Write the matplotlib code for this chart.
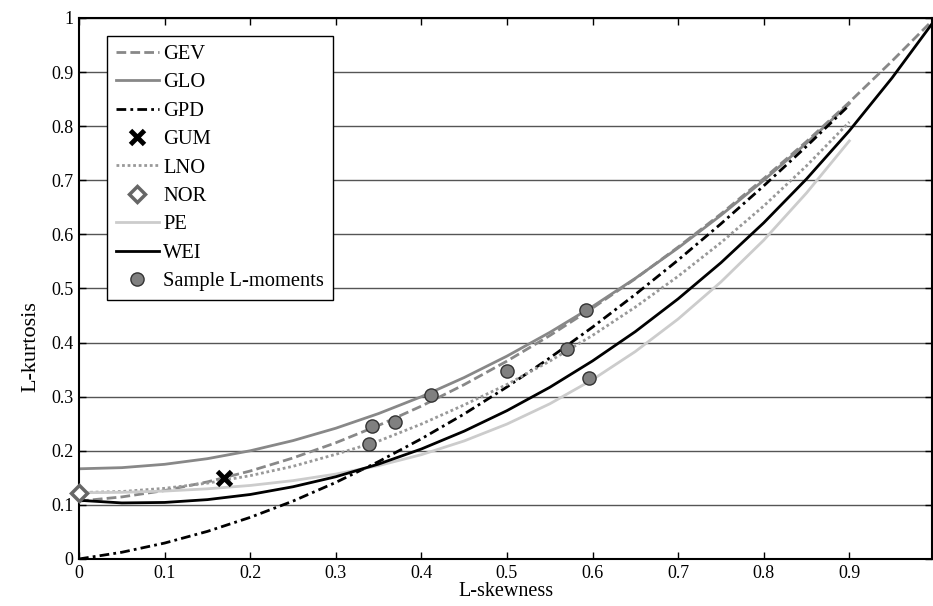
"""
L-moment ratio diagram: theoretical curves of candidate distributions
with the sample L-skewness / L-kurtosis pairs of the stations.
"""

import matplotlib
matplotlib.use('Agg')
import matplotlib.pyplot as plt

plt.rcParams['font.family'] = ['Liberation Serif', 'DejaVu Serif']

# L-skewness grid for the curves
t3_full = [0.0, 0.05, 0.1, 0.15, 0.2, 0.25, 0.3, 0.35, 0.4, 0.45, 0.5,
           0.55, 0.6, 0.65, 0.7, 0.75, 0.8, 0.85, 0.9, 0.95, 1.0]
t3_short = t3_full[:19]

# L-kurtosis of each distribution along the grid
gev = [0.107, 0.1147, 0.1265, 0.1425, 0.1626, 0.1867, 0.2148, 0.2469, 0.2826, 0.3223,
       0.3658, 0.4129, 0.4638, 0.5181, 0.5766, 0.6378, 0.7031, 0.7717, 0.8443, 0.9206, 1.0]
glo = [0.1667, 0.1688, 0.175, 0.1854, 0.2, 0.2188, 0.2417, 0.2688, 0.3, 0.3354,
       0.375, 0.4188, 0.4667, 0.5188, 0.575, 0.6354, 0.7, 0.7688, 0.8417]
gpd = [0.0, 0.0124, 0.0294, 0.051, 0.0769, 0.107, 0.1415, 0.18, 0.2222, 0.268,
       0.318, 0.3716, 0.4286, 0.489, 0.5526, 0.6196, 0.6897, 0.7628, 0.839]
lno = [0.1228, 0.1247, 0.1306, 0.1402, 0.154, 0.1713, 0.1935, 0.2179, 0.2494, 0.2848,
       0.3226, 0.3657, 0.4133, 0.4656, 0.5226, 0.5848, 0.6525, 0.7267, 0.8077]
pe = [0.1224, 0.1232, 0.1255, 0.1297, 0.1359, 0.1448, 0.1569, 0.1726, 0.1928, 0.2182,
      0.2494, 0.2868, 0.3315, 0.3835, 0.4436, 0.5121, 0.5893, 0.6766, 0.7728]
wei = [0.1085, 0.1036, 0.1045, 0.1097, 0.1192, 0.1335, 0.152, 0.1754, 0.2033, 0.2363,
       0.2742, 0.3173, 0.3661, 0.4203, 0.4809, 0.5476, 0.6214, 0.7025, 0.7915, 0.8894, 0.9966]

# single-point distributions
gum_t3, gum_t4 = 0.1699, 0.1504
nor_t3, nor_t4 = 0.0, 0.1226

# sample L-moment ratios
sample_t3 = [0.339, 0.342, 0.369, 0.411, 0.500, 0.570, 0.592, 0.596]
sample_t4 = [0.213, 0.245, 0.253, 0.304, 0.348, 0.388, 0.460, 0.335]

fig = plt.figure(figsize=(9.33, 6.06), dpi=100)
ax = fig.add_axes([0.0847, 0.0776, 0.9146, 0.8927])

ax.plot(t3_full, gev, color='#888888', linestyle=(0, (3.5, 1.5)), linewidth=2, label='GEV')
ax.plot(t3_short, glo, color='#888888', linewidth=2, label='GLO')
ax.plot(t3_short, gpd, color='black', linestyle=(0, (3.5, 1.5, 1, 1.5)), linewidth=2, label='GPD')
ax.plot([gum_t3], [gum_t4], linestyle='none', marker='x', color='black',
        markersize=10, markeredgewidth=3.5, label='GUM', zorder=5)
ax.plot(t3_short, lno, color='#999999', linestyle=(0, (1, 1)), linewidth=2, label='LNO')
ax.plot([nor_t3], [nor_t4], linestyle='none', marker='D', markersize=8,
        markerfacecolor='white', markeredgecolor='#666666', markeredgewidth=2.5,
        label='NOR', zorder=5, clip_on=False)
ax.plot(t3_short, pe, color='#cccccc', linewidth=2, label='PE')
ax.plot(t3_full, wei, color='black', linewidth=2, label='WEI')
ax.plot(sample_t3, sample_t4, linestyle='none', marker='o', markersize=9.5,
        markerfacecolor='#808080', markeredgecolor='#333333', markeredgewidth=1,
        label='Sample L-moments', zorder=6)

ax.set_xlim(0, 0.997)
ax.set_ylim(0, 1)
xt = [0, 0.1, 0.2, 0.3, 0.4, 0.5, 0.6, 0.7, 0.8, 0.9]
yt = [0, 0.1, 0.2, 0.3, 0.4, 0.5, 0.6, 0.7, 0.8, 0.9, 1.0]
ax.set_xticks(xt)
ax.set_xticklabels(['0' if v == 0 else f'{v:g}' for v in xt])
ax.set_yticks(yt)
ax.set_yticklabels([f'{v:g}' for v in yt])
ax.tick_params(direction='in', length=5, width=1, top=True, right=True,
               labelsize=13, pad=4)
ax.yaxis.grid(True, color='#555555', linewidth=1)
ax.set_axisbelow(True)
for s in ax.spines.values():
    s.set_linewidth(1.5)

ax.set_xlabel('L-skewness', fontsize=14.5, labelpad=0)
ax.set_ylabel('L-kurtosis', fontsize=16)
ax.yaxis.set_label_coords(-0.045, 0.392)

leg = ax.legend(loc='upper left', bbox_to_anchor=(0.033, 0.967), borderaxespad=0,
                fontsize=14.8, handlelength=2.1, handletextpad=0.2,
                labelspacing=0.44, borderpad=0.42, fancybox=False,
                framealpha=1, edgecolor='black')
leg.get_frame().set_linewidth(1)

fig.savefig('out.png', dpi=100)
